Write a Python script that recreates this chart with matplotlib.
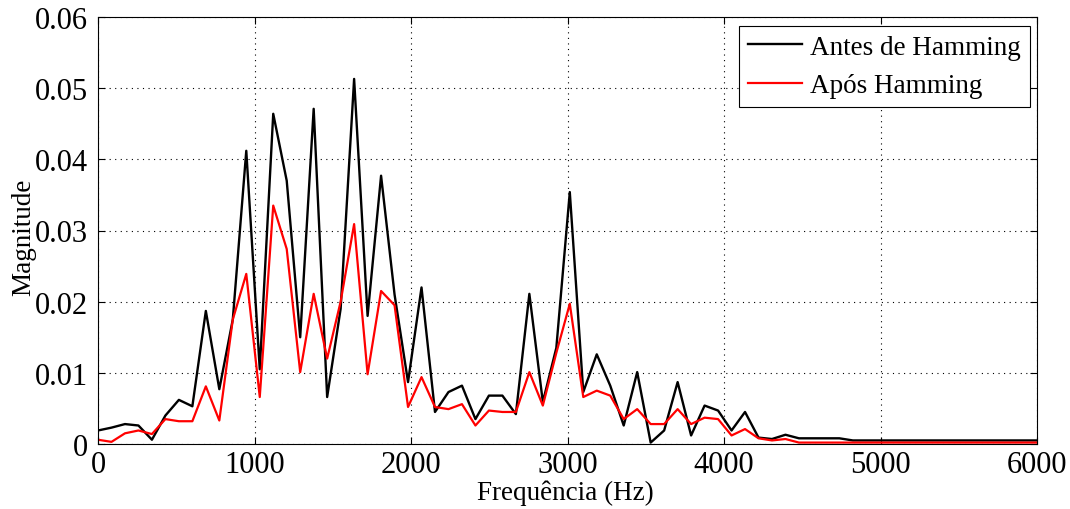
import numpy as np
import matplotlib
matplotlib.use("Agg")
import matplotlib.pyplot as plt

# bin spacing fs/N = 11025/128 Hz
fs = 11025
n_fft = 128

# magnitudes, one value per bin
antes = [0.0019, 0.0023, 0.0028, 0.0026, 0.0006, 0.0040, 0.0062, 0.0053, 0.0187, 0.0077,
         0.0175, 0.0412, 0.0105, 0.0464, 0.0370, 0.0150, 0.0471, 0.0066, 0.0190, 0.0513,
         0.0180, 0.0377, 0.0210, 0.0087, 0.0220, 0.0045, 0.0073, 0.0082, 0.0035, 0.0068,
         0.0068, 0.0042, 0.0211, 0.0059, 0.0135, 0.0354, 0.0073, 0.0126, 0.0082, 0.0026,
         0.0101, 0.0002, 0.0019, 0.0087, 0.0012, 0.0054, 0.0047, 0.0019, 0.0045, 0.0009,
         0.0007, 0.0013, 0.0008, 0.0008, 0.0008, 0.0008, 0.0005, 0.0005, 0.0005, 0.0005,
         0.0005, 0.0005, 0.0005, 0.0005, 0.0005, 0.0005, 0.0005, 0.0005, 0.0005, 0.0005,
         0.0005]
apos = [0.0006, 0.0003, 0.0015, 0.0019, 0.0014, 0.0035, 0.0032, 0.0032, 0.0081, 0.0033,
        0.0175, 0.0239, 0.0066, 0.0335, 0.0274, 0.0101, 0.0211, 0.0120, 0.0200, 0.0309,
        0.0098, 0.0215, 0.0195, 0.0052, 0.0094, 0.0052, 0.0049, 0.0056, 0.0026, 0.0047,
        0.0045, 0.0045, 0.0101, 0.0054, 0.0128, 0.0197, 0.0066, 0.0075, 0.0068, 0.0035,
        0.0049, 0.0028, 0.0028, 0.0049, 0.0028, 0.0037, 0.0035, 0.0012, 0.0021, 0.0008,
        0.0005, 0.0007, 0.0002, 0.0002, 0.0002, 0.0002, 0.0002, 0.0002, 0.0002, 0.0002,
        0.0002, 0.0002, 0.0002, 0.0002, 0.0002, 0.0002, 0.0002, 0.0002, 0.0002, 0.0002,
        0.0002]

freq = np.arange(len(antes)) * fs / n_fft

plt.rcParams['font.family'] = ['Liberation Serif', 'DejaVu Serif']
plt.rcParams['font.size'] = 19.5

fig = plt.figure(figsize=(10.7, 5.1), dpi=100)
ax = fig.add_axes([98 / 1070, 1 - 445 / 510, (1037 - 98) / 1070, (445 - 18) / 510])

ax.plot(freq, antes, color="black", lw=1.7, label="Antes de Hamming")
ax.plot(freq, apos, color="red", lw=1.6, label="Após Hamming")

ax.set_xlim(0, 6000)
ax.set_ylim(0, 0.06)
ax.set_xticks(np.arange(0, 6001, 1000))
ax.set_yticks(np.arange(0, 0.061, 0.01))
ax.set_yticklabels(["0", "0.01", "0.02", "0.03", "0.04", "0.05", "0.06"])
ax.tick_params(direction="in", top=True, right=True, length=5, width=0.8, labelsize=22)
ax.tick_params(axis="x", pad=4)
ax.tick_params(axis="y", pad=7)
ax.grid(True, color="black", linestyle=(0, (1, 4)), linewidth=0.8)

for s in ax.spines.values():
    s.set_linewidth(0.8)

ax.set_xlabel("Frequência (Hz)")
ax.set_ylabel("Magnitude")
ax.xaxis.set_label_coords(0.498, -0.084)
ax.yaxis.set_label_coords(-0.066, 0.486)

leg = ax.legend(loc="upper right", bbox_to_anchor=(0.9925, 0.979), fancybox=False,
                edgecolor="black", framealpha=1, handlelength=2.0, borderpad=0.33,
                labelspacing=0.5, handletextpad=0.3, borderaxespad=0)
leg.get_frame().set_linewidth(0.8)

fig.savefig("out.png", dpi=100)
